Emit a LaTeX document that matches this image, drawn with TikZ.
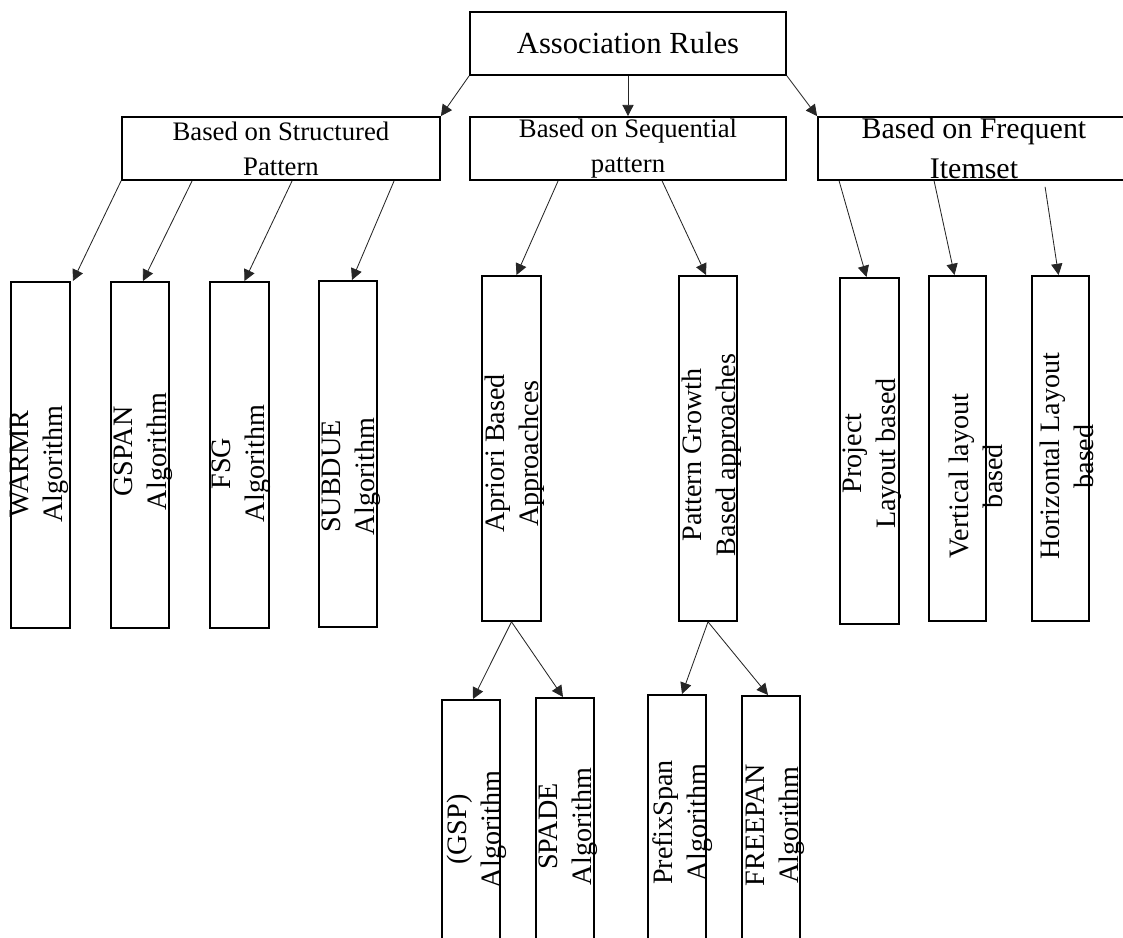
\documentclass[tikz,border=0pt]{standalone}
\usepackage{fontspec}
\setmainfont{Liberation Serif}
\usetikzlibrary{shapes,arrows.meta}
\newcommand{\pu}{0.025cm}

\begin{document}
\begin{tikzpicture}[x=\pu, y=-\pu,
  topbox/.style={draw, line width=1.3pt, inner sep=0pt, minimum height=63*\pu, align=center},
  leafbox/.style={draw, line width=1.3pt, inner sep=0pt, anchor=north, minimum width=58*\pu, minimum height=346*\pu},
  lowbox/.style={draw, line width=1.3pt, inner sep=0pt, anchor=north, minimum width=58*\pu, minimum height=270*\pu},
  vtext/.style={rotate=90, align=center, inner sep=0pt, font=\fontsize{20}{24}\selectfont},
  link/.style={-{Triangle[length=8pt,width=8pt]}, line width=0.6pt, black!85}]
  \useasboundingbox (0,0) rectangle (1123,938);

  % top levels
  \node[topbox, minimum width=316*\pu, font=\fontsize{21.8}{25}\selectfont] (root) at (628,43.5) {Association Rules};
  \node[topbox, minimum width=318*\pu, font=\fontsize{19}{25}\selectfont] (structured) at (281,148.5) {Based on Structured\\Pattern};
  \node[topbox, minimum width=316*\pu, font=\fontsize{19}{25}\selectfont] (sequential) at (628,148.5) {Based on Sequential\\pattern};
  \node[topbox, minimum width=312*\pu, font=\fontsize{21.3}{28.5}\selectfont] (frequent) at (974,148.5) {Based on Frequent\\Itemset};

  % leaves
  \node[leafbox, minimum width=59*\pu] (warmr) at (40.5,281) {};
  \node[leafbox] (gspan) at (140,281) {};
  \node[leafbox, minimum width=59*\pu] (fsg) at (239.5,281) {};
  \node[leafbox] (subdue) at (348,280) {};
  \node[leafbox, minimum width=59*\pu, minimum height=345*\pu] (apriori) at (511.5,275) {};
  \node[leafbox, minimum height=345*\pu] (growth) at (708,275) {};
  \node[leafbox, minimum width=59*\pu] (project) at (869.5,277) {};
  \node[leafbox, minimum width=57*\pu, minimum height=345*\pu] (vertical) at (957.5,275) {};
  \node[leafbox, minimum width=57*\pu, minimum height=345*\pu] (horizontal) at (1060.5,275) {};

  \node[vtext] (warmr-t) at (39,464) {WARMR\\Algorithm};
  \node[vtext] (gspan-t) at (143.5,451.5) {GSPAN\\Algorithm};
  \node[vtext] (fsg-t) at (241,463.5) {FSG\\Algorithm};
  \node[vtext] (subdue-t) at (351,476.5) {SUBDUE\\Algorithm};
  \node[vtext] (apriori-t) at (515,453.5) {Apriori Based\\Approachces};
  \node[vtext] (growth-t) at (712,455) {Pattern Growth\\Based approaches};
  \node[vtext] (project-t) at (872,453.5) {Project\\Layout based};
  \node[vtext] (vertical-t) at (975.5,476) {Vertical layout\\based};
  \node[vtext] (horizontal-t) at (1067,456.5) {Horizontal Layout\\based};

  % bottom row
  \node[lowbox] (gsp) at (471,699) {};
  \node[lowbox] (spade) at (565,697) {};
  \node[lowbox] (prefixspan) at (677,694) {};
  \node[lowbox] (freepan) at (771,695) {};

  \node[vtext] (gsp-t) at (476.5,829.5) {(GSP)\\Algorithm};
  \node[vtext] (spade-t) at (568.5,826.5) {SPADE\\Algorithm};
  \node[vtext] (prefixspan-t) at (682.5,822.5) {PrefixSpan\\Algorithm};
  \node[vtext] (freepan-t) at (775,825) {FREEPAN\\Algorithm};

  % arrows
  \draw[link] (root.south west) -- (structured.north east);
  \draw[link] (root.south) -- (sequential.north);
  \draw[link] (root.south east) -- (frequent.north west);

  \draw[link] (structured.south west) -- ([xshift=2*\pu]warmr.north east);
  \draw[link] ([xshift=71*\pu]structured.south west) -- ([xshift=3*\pu]gspan.north);
  \draw[link] ([xshift=171*\pu]structured.south west) -- ([xshift=5*\pu]fsg.north);
  \draw[link] ([xshift=273*\pu]structured.south west) -- ([xshift=4*\pu]subdue.north);

  \draw[link] ([xshift=89*\pu]sequential.south west) -- ([xshift=5*\pu]apriori.north);
  \draw[link] ([xshift=193*\pu]sequential.south west) -- ([xshift=-2*\pu]growth.north);

  \draw[link] ([xshift=22*\pu]frequent.south west) -- ([xshift=-3*\pu]project.north);
  \draw[link] ([xshift=117*\pu]frequent.south west) -- ([xshift=-3*\pu]vertical.north);
  \draw[link] ([xshift=228*\pu,yshift=-6*\pu]frequent.south west) -- ([xshift=-2*\pu]horizontal.north);

  \draw[link] (apriori.south) -- ([xshift=2*\pu]gsp.north);
  \draw[link] (apriori.south) -- ([xshift=-2*\pu]spade.north);
  \draw[link] (growth.south) -- ([xshift=5*\pu]prefixspan.north);
  \draw[link] (growth.south) -- ([xshift=-3*\pu]freepan.north);
\end{tikzpicture}
\end{document}
